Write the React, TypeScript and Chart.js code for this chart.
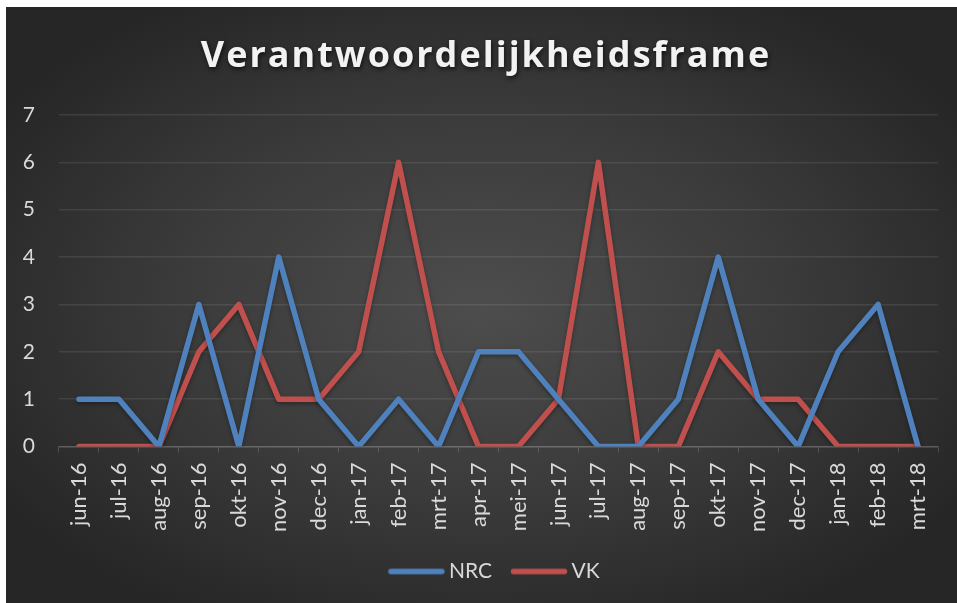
import React, { useEffect, useRef } from "react";
import { Chart, registerables } from "chart.js";

Chart.register(...registerables);

const TITLE = "Verantwoordelijkheidsframe";
const categories = [
  "jun-16", "jul-16", "aug-16", "sep-16", "okt-16", "nov-16", "dec-16",
  "jan-17", "feb-17", "mrt-17", "apr-17", "mei-17", "jun-17", "jul-17",
  "aug-17", "sep-17", "okt-17", "nov-17", "dec-17", "jan-18", "feb-18", "mrt-18",
];
const nrcValues = [1, 1, 0, 3, 0, 4, 1, 0, 1, 0, 2, 2, 1, 0, 0, 1, 4, 1, 0, 2, 3, 0];
const vkValues = [0, 0, 0, 2, 3, 1, 1, 2, 6, 2, 0, 0, 1, 6, 0, 0, 2, 1, 1, 0, 0, 0];
const yTicks = [0, 1, 2, 3, 4, 5, 6, 7];

const NRC_COLOR = "#4F81BD";
const VK_COLOR = "#C0504D";
const LABEL_FONT = "Lato";
const TEXT_COLOR = "#d9d9d9";

function legendLine(color: string) {
  // image wider than the legend box so that the line sits close to its text
  const c = document.createElement("canvas");
  c.width = 64;
  c.height = 8;
  const g = c.getContext("2d")!;
  g.strokeStyle = color;
  g.lineWidth = 5.5;
  g.lineCap = "round";
  g.beginPath();
  g.moveTo(9.5, 4);
  g.lineTo(60.5, 4);
  g.stroke();
  return c;
}

const titlePlugin = {
  id: "customTitle",
  afterLayout(chart: any) {
    if (chart.legend) {
      chart.legend.left += 22;
      chart.legend.right += 22;
    }
  },
  afterDraw(chart: any) {
    const ctx = chart.ctx as CanvasRenderingContext2D;
    ctx.save();
    ctx.font = "bold 36px 'Open Sans'";
    (ctx as any).letterSpacing = "2px";
    ctx.textAlign = "center";
    ctx.textBaseline = "alphabetic";
    ctx.shadowColor = "rgba(0,0,0,0.7)";
    ctx.shadowBlur = 5;
    ctx.shadowOffsetX = 1;
    ctx.shadowOffsetY = 2;
    ctx.fillStyle = "#f2f2f2";
    ctx.fillText(TITLE, 480, 60);
    ctx.restore();
  },
};

const shadowPlugin = {
  id: "lineShadow",
  beforeDatasetDraw(chart: any) {
    const ctx = chart.ctx as CanvasRenderingContext2D;
    ctx.save();
    ctx.shadowColor = "rgba(0,0,0,0.35)";
    ctx.shadowBlur = 4;
    ctx.shadowOffsetY = 2;
  },
  afterDatasetDraw(chart: any) {
    chart.ctx.restore();
  },
};

export default function App() {
  const ref = useRef<HTMLCanvasElement | null>(null);

  useEffect(() => {
    if (!ref.current) return;
    const chart = new Chart(ref.current, {
      type: "line",
      data: {
        labels: categories,
        datasets: [
          {
            label: "NRC",
            data: nrcValues,
            borderColor: NRC_COLOR,
            backgroundColor: NRC_COLOR,
            borderWidth: 5.5,
            pointRadius: 0,
            pointHoverRadius: 0,
            pointStyle: legendLine(NRC_COLOR),
            borderCapStyle: "round",
            borderJoinStyle: "round",
            tension: 0,
          },
          {
            label: "VK",
            data: vkValues,
            borderColor: VK_COLOR,
            backgroundColor: VK_COLOR,
            borderWidth: 5.5,
            pointRadius: 0,
            pointHoverRadius: 0,
            pointStyle: legendLine(VK_COLOR),
            borderCapStyle: "round",
            borderJoinStyle: "round",
            tension: 0,
          },
        ],
      },
      options: {
        animation: false,
        responsive: false,
        maintainAspectRatio: false,
        layout: { padding: { top: 108, right: 19, bottom: 11, left: 0 } },
        plugins: {
          title: { display: false },
          tooltip: { enabled: false },
          legend: {
            position: "bottom",
            labels: {
              color: TEXT_COLOR,
              font: { family: LABEL_FONT, size: 21 },
              usePointStyle: true,
              pointStyleWidth: 50,
              boxHeight: 8,
              padding: 19,
            },
          },
        },
        scales: {
          x: {
            type: "category",
            offset: true,
            grid: {
              offset: true,
              drawOnChartArea: false,
              drawTicks: true,
              tickLength: 6,
              tickColor: "rgba(255,255,255,0.16)",
            },
            border: { display: true, color: "rgba(255,255,255,0.16)", width: 1.5 },
            ticks: {
              color: TEXT_COLOR,
              font: { family: LABEL_FONT, size: 22 },
              maxRotation: 90,
              minRotation: 90,
              padding: 10,
              autoSkip: false,
            },
          },
          y: {
            min: 0,
            max: 7,
            afterBuildTicks: (scale: any) => {
              scale.ticks = yTicks.map((v) => ({ value: v }));
            },
            afterFit: (scale: any) => {
              scale.width = 53;
            },
            grid: {
              color: "rgba(255,255,255,0.09)",
              lineWidth: 1.5,
              drawTicks: false,
            },
            border: { display: false },
            ticks: {
              color: TEXT_COLOR,
              font: { family: LABEL_FONT, size: 21 },
              padding: 24,
              stepSize: 1,
            },
          },
        },
      },
      plugins: [titlePlugin, shadowPlugin],
    } as any);
    return () => chart.destroy();
  }, []);

  return (
    <div
      style={{
        position: "absolute",
        left: 6,
        top: 7,
        width: 951,
        height: 596,
        background:
          "radial-gradient(ellipse 60% 60% at 50% 50%, #4d4d4d 0%, #3a3a3a 55%, #262626 100%)",
      }}
    >
      <canvas ref={ref} width={951} height={596} style={{ display: "block" }} />
    </div>
  );
}
